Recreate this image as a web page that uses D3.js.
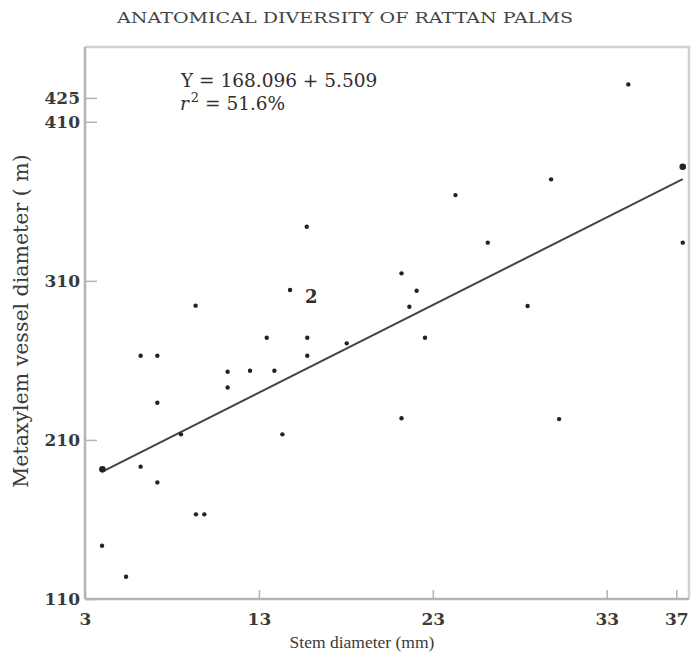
<!DOCTYPE html>
<html>
<head>
<meta charset="utf-8">
<script src="https://cdn.jsdelivr.net/npm/d3@7/dist/d3.min.js"></script>
<style>
  html, body { margin: 0; padding: 0; background: #fff; }
  svg { display: block; }
</style>
</head>
<body>
<svg id="chart" width="691" height="659"></svg>
<script>
// Stem diameter (mm) of each sampled rattan species
const stemDiameter = [4.0, 3.98, 5.36, 6.2, 7.16, 9.38, 9.86, 8.52, 7.16, 6.2, 7.16, 9.36,
  11.2, 11.2, 12.49, 13.89, 13.45, 14.35, 14.79, 15.78, 15.78, 15.75, 18.05,
  21.2, 22.07, 21.65, 22.55, 21.2, 24.3, 26.16, 28.45, 29.8, 30.26, 34.24, 37.37, 37.37];
// Metaxylem vessel diameter for the same species
const vesselDiameter = [191.5, 143.5, 124, 193.2, 183.3, 163.2, 163.2, 213.5, 233.4, 262.9, 262.9, 294.4,
  243, 252.9, 253.5, 253.5, 274.2, 213.5, 304.2, 274.2, 262.9, 344, 270.7,
  314.7, 303.8, 293.7, 274.2, 223.6, 363.9, 334, 294.2, 373.8, 223.1, 433.5, 381.7, 334];
// Points drawn larger (ends of the fitted line)
const largeMarks = [0, 34];
// Point that stands for two coincident observations
const duplicateIndex = 18;
const duplicateLabel = "2";

const xTicks = [3, 13, 23, 33, 37];
const yTicks = [110, 210, 310, 410, 425];

// Fitted regression Y = a + b·X
const intercept = 168.096;
const slope = 5.509;
const rSquared = "51.6%";
const fitRange = [4.0, 37.37];

const title = "ANATOMICAL DIVERSITY OF RATTAN PALMS";
const xTitle = "Stem diameter (mm)";
const yTitle = "Metaxylem vessel diameter ( m)";

const serifWide = "'DejaVu Serif', serif";
const serifNarrow = "'Liberation Serif', serif";

const svg = d3.select("#chart");
const plot = { left: 85, top: 47, right: 689, bottom: 599 };

const x = d3.scaleLinear().domain([3, 37.73]).range([plot.left, plot.right]);
const y = d3.scaleLinear().domain([110, 457]).range([plot.bottom, plot.top]);

const axisColor = "#b4b4b4";
const inkColor = "#2e2e2e";
const labelColor = "#3a3a3a";

// Frame: top and right edges
svg.append("path")
  .attr("d", `M${plot.left},${plot.top}H${plot.right}V${plot.bottom}`)
  .attr("fill", "none").attr("stroke", "#d0d0d0").attr("stroke-width", 2.5);

// X axis with inward ticks
const xAxis = svg.append("g")
  .attr("transform", `translate(0,${plot.bottom})`)
  .call(d3.axisTop(x).tickValues(xTicks).tickSize(9).tickFormat(d3.format("d")));
xAxis.select(".domain").attr("stroke", axisColor).attr("stroke-width", 2.5)
  .attr("d", `M${plot.left},0H${plot.right}`);
xAxis.selectAll(".tick line").attr("stroke", axisColor).attr("stroke-width", 1.5);
xAxis.selectAll(".tick text")
  .attr("y", 14).attr("dy", "0.71em")
  .style("font-family", serifWide).style("font-size", "17px").style("font-weight", 600)
  .attr("fill", labelColor);

// Y axis with inward ticks
const yAxis = svg.append("g")
  .attr("transform", `translate(${plot.left},0)`)
  .call(d3.axisRight(y).tickValues(yTicks).tickSize(12).tickFormat(d3.format("d")));
yAxis.select(".domain").attr("stroke", axisColor).attr("stroke-width", 2.5)
  .attr("d", `M0,${plot.top}V${plot.bottom}`);
yAxis.selectAll(".tick line").attr("stroke", axisColor).attr("stroke-width", 1.5);
yAxis.selectAll(".tick text")
  .attr("x", -5).attr("text-anchor", "end")
  .style("font-family", serifWide).style("font-size", "17px").style("font-weight", 600)
  .attr("fill", labelColor);

// Regression line
const fitLine = d3.line().x(d => x(d)).y(d => y(intercept + slope * d));
svg.append("path")
  .attr("d", fitLine(fitRange))
  .attr("fill", "none").attr("stroke", "#444").attr("stroke-width", 2);

// Observations
const points = stemDiameter.map((v, i) => ({ sx: v, vy: vesselDiameter[i], big: largeMarks.includes(i) }));
svg.append("g").selectAll("circle")
  .data(points).join("circle")
  .attr("cx", d => x(d.sx)).attr("cy", d => y(d.vy))
  .attr("r", d => d.big ? 3.3 : 2.2)
  .attr("fill", "#222");

// Count label for coincident points
svg.append("text")
  .attr("x", x(stemDiameter[duplicateIndex]) + 15)
  .attr("y", y(vesselDiameter[duplicateIndex]) + 13)
  .style("font-family", serifWide).style("font-size", "18px").style("font-weight", 600)
  .attr("fill", inkColor)
  .text(duplicateLabel);

// Equation annotation
svg.append("text")
  .attr("x", 181).attr("y", 87)
  .style("font-family", serifWide).style("font-size", "18.5px")
  .attr("fill", inkColor)
  .text(`Y = ${intercept.toFixed(3)} + ${slope.toFixed(3)}`);
const r2 = svg.append("text")
  .attr("x", 180).attr("y", 110)
  .style("font-family", serifWide).style("font-size", "18.5px")
  .attr("fill", inkColor);
r2.append("tspan").style("font-style", "italic").text("r");
r2.append("tspan").attr("dx", 2).attr("dy", -8).style("font-size", "13px").text("2");
r2.append("tspan").attr("dy", 8).text(` = ${rSquared}`);

// Title and axis titles
svg.append("text")
  .attr("x", 345).attr("y", 23).attr("text-anchor", "middle")
  .style("font-family", serifWide).style("font-size", "15px")
  .attr("fill", "#444")
  .attr("textLength", 456).attr("lengthAdjust", "spacingAndGlyphs")
  .text(title);
svg.append("text")
  .attr("x", 362).attr("y", 648).attr("text-anchor", "middle")
  .style("font-family", serifNarrow).style("font-size", "17.5px")
  .attr("fill", labelColor)
  .text(xTitle);
svg.append("text")
  .attr("transform", "translate(28,321) rotate(-90)")
  .attr("text-anchor", "middle")
  .style("font-family", serifWide).style("font-size", "20.5px")
  .attr("fill", labelColor)
  .text(yTitle);
</script>
</body>
</html>
